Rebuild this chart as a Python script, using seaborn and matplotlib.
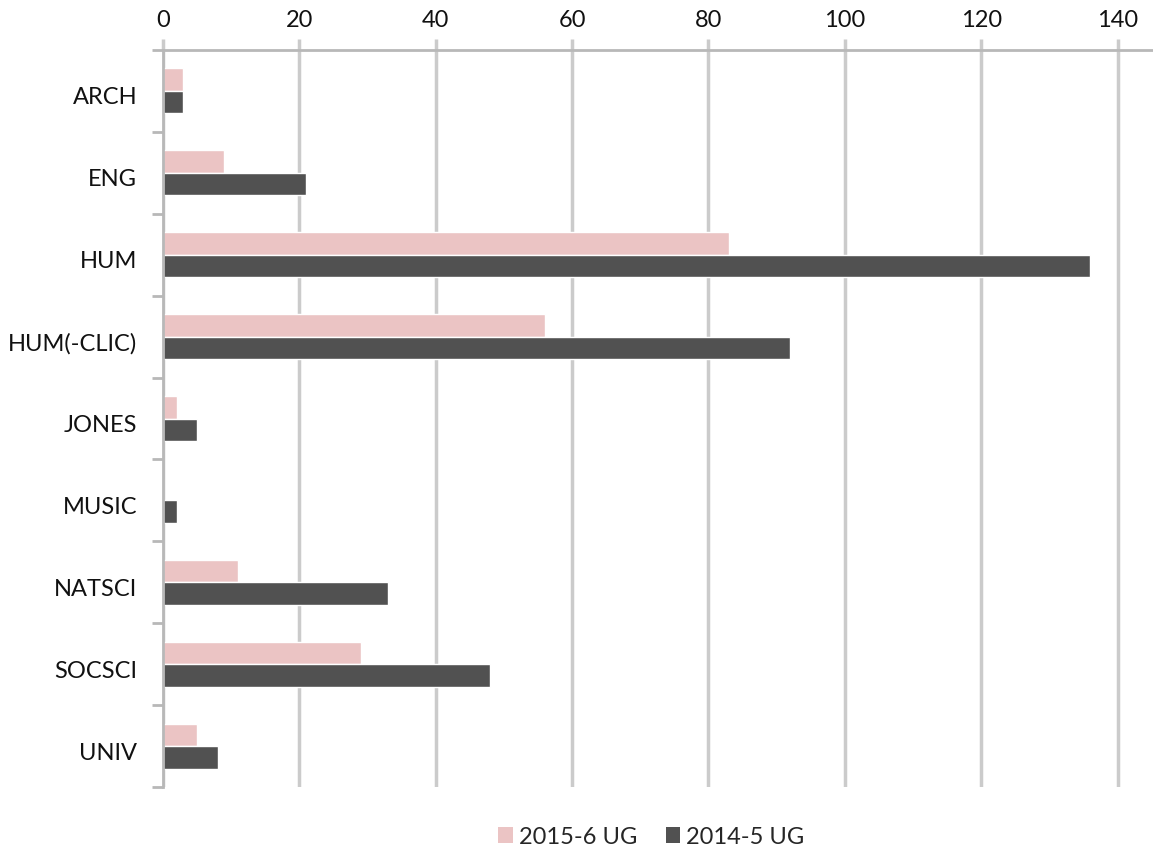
import matplotlib
matplotlib.use("Agg")
import matplotlib.pyplot as plt
import matplotlib.transforms as mtransforms
import seaborn as sns
import pandas as pd
import numpy as np
from matplotlib.patches import Patch

categories = ["ARCH", "ENG", "HUM", "HUM(-CLIC)", "JONES", "MUSIC", "NATSCI", "SOCSCI", "UNIV"]
ug_2015_6 = [3, 9, 83, 56, 2, 0, 11, 29, 5]
ug_2014_5 = [3, 21, 136, 92, 5, 2, 33, 48, 8]
series_names = ["2015-6 UG", "2014-5 UG"]
x_ticks = [0, 20, 40, 60, 80, 100, 120, 140]

df = pd.DataFrame({
    "category": categories * 2,
    "value": ug_2015_6 + ug_2014_5,
    "series": [series_names[0]] * len(categories) + [series_names[1]] * len(categories),
})

sns.set_theme(style="white")
plt.rcParams["font.family"] = ["Lato", "DejaVu Sans"]

pink = "#EBC4C4"
dark = "#515151"
grid_c = "#CBCBCB"

fig = plt.figure(figsize=(11.53, 8.49), dpi=100)
ax = fig.add_axes([163 / 1153, 1 - 787 / 849, 1 - 163 / 1153, (787 - 50) / 849])

sns.barplot(data=df, y="category", x="value", hue="series", order=categories,
            hue_order=series_names, palette=[pink, dark], orient="h",
            width=0.55, ax=ax, legend=False, saturation=1)

ax.set_xlim(0, 145.2)
ax.set_ylim(len(categories) - 0.5, -0.5)
ax.set_xlabel("")
ax.set_ylabel("")

ax.xaxis.tick_top()
ax.set_xticks(x_ticks)
ax.tick_params(axis="x", top=True, bottom=False, length=8, width=2.5, color=grid_c,
               labelsize=17, pad=6, labelcolor="#111111")
ax.grid(axis="x", color=grid_c, linewidth=2.5)
ax.grid(axis="y", visible=False)
ax.set_axisbelow(True)

ax.set_yticks(range(len(categories)))
ax.set_yticklabels(categories)
ax.set_yticks(np.arange(-0.5, len(categories), 1.0), minor=True)
ax.tick_params(axis="y", which="major", length=0, labelsize=17, pad=18.5, labelcolor="#111111")
ax.tick_params(axis="y", which="minor", left=True, length=8, width=2, color="#B8B8B8")

offset = mtransforms.ScaledTranslation(0, -5 / 100, fig.dpi_scale_trans)
for lbl in ax.get_yticklabels():
    lbl.set_transform(lbl.get_transform() + offset)

for s in ["right", "bottom"]:
    ax.spines[s].set_visible(False)
for s in ["top", "left"]:
    ax.spines[s].set_visible(True)
    ax.spines[s].set_color("#B8B8B8")
    ax.spines[s].set_linewidth(2)

handles = [Patch(facecolor=pink, edgecolor="none"), Patch(facecolor=dark, edgecolor="none")]
fig.legend(handles, series_names, loc="center", bbox_to_anchor=(651.5 / 1153, 1 - 837 / 849),
           ncol=2, frameon=False, fontsize=17, handlelength=0.63, handleheight=0.63,
           handletextpad=0.25, columnspacing=1.19, borderpad=0, borderaxespad=0)

fig.savefig("out.png", dpi=100)
